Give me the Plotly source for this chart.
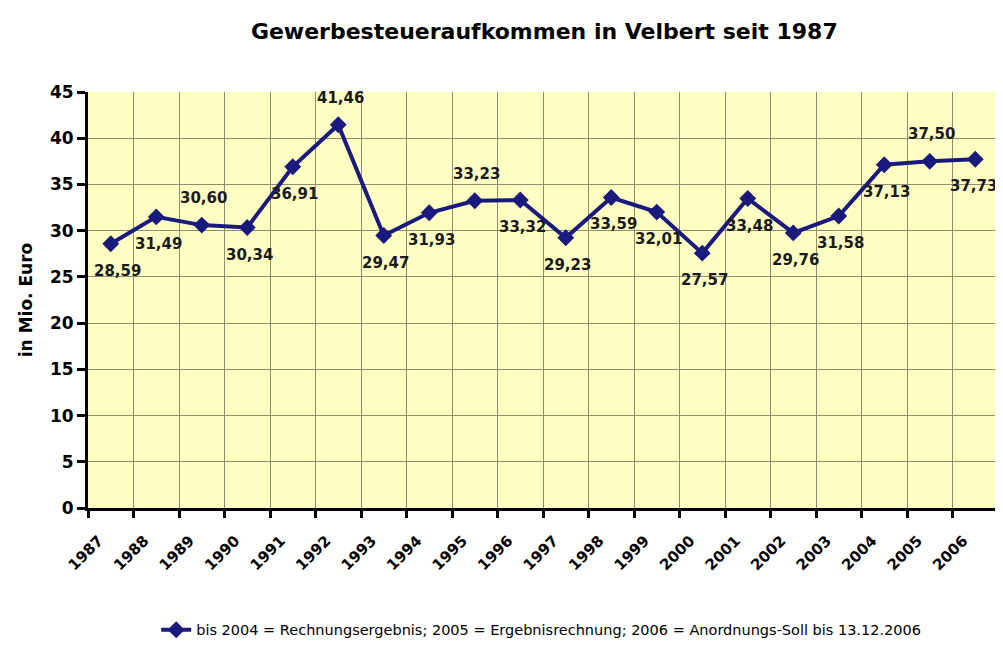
import plotly.graph_objects as go

years = [str(y) for y in range(1987, 2007)]
values = [28.59, 31.49, 30.60, 30.34, 36.91, 41.46, 29.47, 31.93, 33.23, 33.32,
          29.23, 33.59, 32.01, 27.57, 33.48, 29.76, 31.58, 37.13, 37.50, 37.73]
label_pos = ["below", "below", "above", "below", "below", "above", "below", "below", "above", "below",
             "below", "below", "below", "below", "below", "below", "below", "below", "above", "below"]
y_ticks = [0, 5, 10, 15, 20, 25, 30, 35, 40, 45]

title_text = "Gewerbesteueraufkommen in Velbert seit 1987"
y_title = "in Mio. Euro"
legend_text = "bis 2004 = Rechnungsergebnis; 2005 = Ergebnisrechnung; 2006 = Anordnungs-Soll bis 13.12.2006"

NAVY = "#1a1a7e"
FONT = "DejaVu Sans"

fig = go.Figure()
fig.add_trace(go.Scatter(
    x=years, y=values, mode="lines+markers", name=legend_text,
    line=dict(color=NAVY, width=4),
    marker=dict(symbol="diamond", size=13, color=NAVY),
))

annotations = []
n = len(values)
for i, (v, p) in enumerate(zip(values, label_pos)):
    xs = 7 if i == 0 else (-2 if i == n - 1 else 2)
    annotations.append(dict(
        x=i, y=v, xref="x", yref="y", text="<b>" + f"{v:.2f}".replace(".", ",") + "</b>",
        showarrow=False, yshift=27 if p == "above" else -27, xshift=xs,
        font=dict(family=FONT, size=15, color="#1a1a1a"),
    ))

# page body has an 8px margin, so the figure is sized/offset accordingly
fig.update_layout(
    width=995, height=639,
    margin=dict(l=80, r=5, t=84, b=139, autoexpand=False),
    paper_bgcolor="white", plot_bgcolor="#FFFFC4",
    annotations=annotations,
    title=dict(text="<b>" + title_text + "</b>", x=0.539, xanchor="center", y=0.964, yanchor="middle",
               font=dict(family=FONT, size=22, color="black")),
    showlegend=True,
    legend=dict(orientation="h", x=0.498, xanchor="center", y=-0.293, yanchor="middle",
                font=dict(family=FONT, size=14.5, color="black"), bgcolor="rgba(0,0,0,0)"),
    xaxis=dict(type="category", tickson="boundaries", range=[-0.5, 19.5], automargin=False,
               showgrid=True, gridcolor="#8f8f70", gridwidth=1,
               showline=True, linecolor="black", linewidth=3,
               ticks="outside", ticklen=7, tickwidth=3, tickcolor="black",
               tickangle=-45, ticklabelshift=-12, ticklabelstandoff=15,
               tickfont=dict(family=FONT, size=15, color="black", weight="bold")),
    yaxis=dict(range=[0, 45], tickvals=y_ticks, automargin=False,
               showgrid=True, gridcolor="#8f8f70", gridwidth=1,
               showline=True, linecolor="black", linewidth=3,
               ticks="outside", ticklen=8, tickwidth=3, tickcolor="black",
               zeroline=False,
               tickfont=dict(family=FONT, size=17, color="black", weight="bold"),
               title=dict(text="<b>" + y_title + "</b>", standoff=13,
                          font=dict(family=FONT, size=17, color="black"))),
)

fig.write_html("out.html")
